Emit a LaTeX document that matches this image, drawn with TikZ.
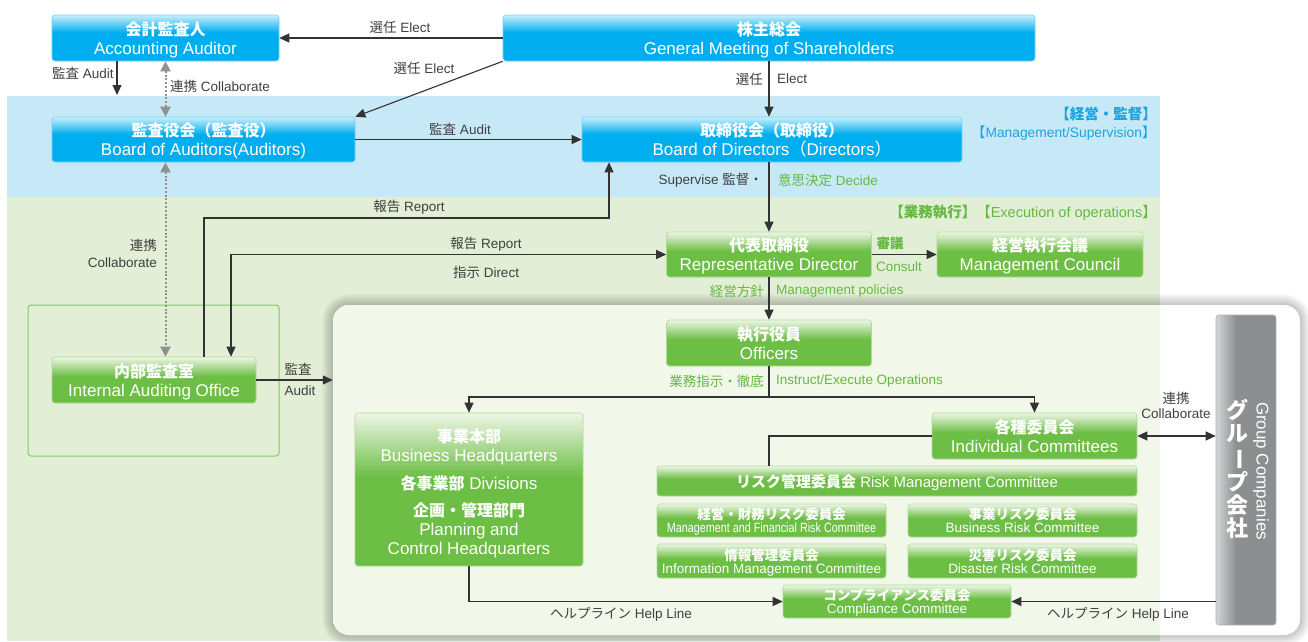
\documentclass[tikz,border=0pt]{standalone}
\usepackage{fontspec}
\setmainfont{Liberation Sans}
\newfontfamily\jp{Noto Sans CJK JP}
\usepackage{graphicx}
\usetikzlibrary{arrows.meta}
\definecolor{bmain}{HTML}{00AEEF}
\definecolor{blight}{HTML}{C8EFFC}
\definecolor{bband}{HTML}{C6E8F7}
\definecolor{btext}{HTML}{1BA5DF}
\definecolor{gmain}{HTML}{6DBE45}
\definecolor{glight}{HTML}{EDF6E6}
\definecolor{gband}{HTML}{E2EED5}
\definecolor{gtext}{HTML}{66B843}
\definecolor{gboxc}{HTML}{F1F7E9}
\definecolor{gray1}{HTML}{8D8E90}
\definecolor{gray2}{HTML}{D3D4D6}
\definecolor{linec}{HTML}{333333}
\definecolor{labc}{HTML}{404040}
\definecolor{dotc}{HTML}{909090}
\pgfdeclareverticalshading{bshade}{100bp}{color(0bp)=(bmain); color(25bp)=(bmain); color(56bp)=(bmain); color(75bp)=(blight); color(100bp)=(blight)}
\pgfdeclareverticalshading{gshade}{100bp}{color(0bp)=(gmain); color(25bp)=(gmain); color(54bp)=(gmain); color(75bp)=(glight); color(100bp)=(glight)}
\pgfdeclarehorizontalshading{grshade}{100bp}{color(0bp)=(gray2); color(25bp)=(gray2); color(42bp)=(gray1); color(100bp)=(gray1)}
\newcommand{\ttl}[2]{{\jp\bfseries\fontsize{16}{19}\selectfont #1}\\{\fontsize{17}{19}\selectfont #2}}
\newcommand{\cmt}[2]{{\jp\bfseries\fontsize{13.5}{13}\selectfont #1}\\{\fontsize{13.5}{13}\selectfont #2}}
\begin{document}
\begin{tikzpicture}[x=1pt,y=-1pt,
  bbx/.style={rounded corners=3pt, shade, shading=bshade, draw=bmain!55!white, line width=0.6pt, text=white, align=center, inner sep=0pt, text depth=0pt, font=\fontsize{17}{19}\selectfont},
  gbx/.style={rounded corners=3pt, shade, shading=gshade, draw=gmain!55!white, line width=0.6pt, text=white, align=center, inner sep=0pt, text depth=0pt, font=\fontsize{17}{19}\selectfont},
  cbx/.style={gbx, font=\fontsize{13.5}{13}\selectfont},
  lbl/.style={font=\fontsize{13.5}{16}\selectfont, text=labc, inner sep=0pt},
  glbl/.style={lbl, text=gtext},
  arr/.style={draw=linec, line width=1.1pt, -{Triangle[length=10pt,width=9pt]}},
  arrb/.style={draw=linec, line width=1.1pt, {Triangle[length=10pt,width=9pt]}-{Triangle[length=10pt,width=9pt]}},
  dotarr/.style={draw=dotc, line width=2pt, dash pattern=on 2pt off 1.8pt, {Triangle[length=10pt,width=10pt]}-{Triangle[length=10pt,width=10pt]}},
  plainln/.style={draw=linec, line width=1.1pt}]
\useasboundingbox (0,0) rectangle (1308,641);
\fill[white] (0,0) rectangle (1308,641);
% bands
\fill[bband] (7,96) rectangle (1160,197);
\fill[gband] (7,197) rectangle (1160,641);
% big execution box with soft shadow
\foreach \w in {2,4,...,22}{
  \draw[black, opacity=0.018, line width=\w pt, rounded corners=16pt] (333,305) rectangle (1300,635);
}
\fill[white, rounded corners=16pt] (333,305) rectangle (1300,635);
\begin{scope}
  \clip (300,290) rectangle (1160,641);
  \fill[gboxc, rounded corners=16pt] (333,305) rectangle (1300,635);
\end{scope}
\node[minimum width=967pt, minimum height=330pt, inner sep=0pt] (exec) at (816.5,470) {};
% internal auditing frame
\node[draw=gmain!85!white, line width=1pt, rounded corners=3pt, minimum width=251pt, minimum height=151pt, inner sep=0pt] (iaoframe) at (153.5,380.5) {};

% boxes
\node[bbx, minimum width=227pt, minimum height=46pt] (aa) at (165.5,38) {\ttl{会計監査人}{Accounting Auditor}};
\node[bbx, minimum width=532pt, minimum height=46pt] (gm) at (769,38) {\ttl{株主総会}{General Meeting of Shareholders}};
\node[bbx, minimum width=303pt, minimum height=45pt] (boa) at (203.5,139.5) {\ttl{監査役会（監査役）}{Board of Auditors(Auditors)}};
\node[bbx, minimum width=380pt, minimum height=45pt] (bod) at (772,139.5) {\ttl{取締役会（取締役）}{Board of Directors{\jp （}Directors{\jp ）}}};
\node[gbx, minimum width=205pt, minimum height=45pt] (rep) at (769,254.5) {\ttl{代表取締役}{Representative Director}};
\node[gbx, minimum width=206pt, minimum height=45pt] (mc) at (1040,254.5) {\ttl{経営執行会議}{Management Council}};
\node[gbx, minimum width=205pt, minimum height=46pt] (off) at (769,343) {\ttl{執行役員}{Officers}};
\node[gbx, minimum width=204pt, minimum height=46pt] (iao) at (154,380) {\ttl{内部監査室}{Internal Auditing Office}};
\node[gbx, minimum width=228pt, minimum height=153pt] (bhq) at (469,489.5) {%
  \rule{0pt}{17pt}{\jp\bfseries\fontsize{16}{19}\selectfont 事業本部}\\
  Business Headquarters\\[9pt]
  {\jp\bfseries\fontsize{16}{19}\selectfont 各事業部} Divisions\\[8pt]
  {\jp\bfseries\fontsize{16}{19}\selectfont 企画・管理部門}\\
  Planning and\\
  Control Headquarters};
\node[gbx, minimum width=205pt, minimum height=46pt] (ic) at (1034.5,436) {\ttl{各種委員会}{Individual Committees}};
\node[gbx, minimum width=480pt, minimum height=30pt, font=\fontsize{15}{17}\selectfont] (rmc) at (897,481) {{\jp\bfseries リスク管理委員会} Risk Management Committee};
\node[cbx, minimum width=229pt, minimum height=33pt] (mfr) at (771.5,520.5) {\cmt{経営・財務リスク委員会}{\scalebox{0.8}[1]{\fontsize{13.5}{13}\selectfont Management and Financial Risk Committee}}};
\node[cbx, minimum width=229pt, minimum height=33pt] (brc) at (1022.5,520.5) {\cmt{事業リスク委員会}{Business Risk Committee}};
\node[cbx, minimum width=229pt, minimum height=34pt] (imc) at (771.5,561) {\cmt{情報管理委員会}{Information Management Committee}};
\node[cbx, minimum width=229pt, minimum height=34pt] (drc) at (1022.5,561) {\cmt{災害リスク委員会}{Disaster Risk Committee}};
\node[cbx, minimum width=228pt, minimum height=33pt] (cc) at (897,601.5) {\cmt{コンプライアンス委員会}{Compliance Committee}};
% group companies
\node[rounded corners=3pt, shade, shading=grshade, draw=gray1!70!white, line width=0.6pt, minimum width=60pt, minimum height=310pt, inner sep=0pt] (grp) at (1246,470) {};
\node[text=white, align=center, inner sep=0pt, font=\jp\bfseries\fontsize{22}{23}\selectfont] (grpj) at (1237,469) {グ\\ル\\\rotatebox[origin=c]{-90}{ー}\\プ\\会\\社};
\node[text=white, rotate=-90, inner sep=0pt, font=\fontsize{17}{19}\selectfont] (grpe) at (1261,471) {Group Companies};

% side headings
\node[anchor=east, text=btext, inner sep=0pt, font=\jp\bfseries\fontsize{14.5}{16}\selectfont] (h1) at (1157,114) {【経営・監督】};
\node[anchor=east, text=btext, inner sep=0pt, font=\fontsize{13.8}{16}\selectfont] (h2) at (1156,133) {{\jp 【}Management/Supervision{\jp 】}};
\node[anchor=east, text=gtext, inner sep=0pt, font=\fontsize{14.5}{16}\selectfont] (h3) at (1157,213) {{\jp\bfseries 【業務執行】}{\jp 【}Execution of operations{\jp 】}};

% connectors
\draw[arr] (gm.west |- aa.east) -- (aa.east);
\node[lbl] (l1) at (400,27) {{\jp 選任} Elect};
\draw[arr] (gm.south west) -- (boa.north east);
\node[lbl] (l2) at (424,68) {{\jp 選任} Elect};
\draw[arr] (gm.south) -- (gm.south |- bod.north);
\node[lbl, anchor=east] (l3) at (763,79) {\jp 選任};
\node[lbl, anchor=west] (l4) at (777,79) {Elect};
\coordinate (aab) at (117,95);
\draw[arr] (aa.south -| aab) -- (aab);
\node[lbl, anchor=west] (l5) at (52,73) {{\jp 監査} Audit};
\draw[dotarr] (aa.south) -- (aa.south |- boa.north);
\node[lbl, anchor=west] (l6) at (170,86) {{\jp 連携} Collaborate};
\draw[dotarr] (boa.south -| aa.south) -- (iao.north -| aa.south);
\node[lbl, anchor=east, align=right, font=\fontsize{13.5}{17}\selectfont] (l7) at (157,253) {{\jp 連携}\\Collaborate};
\draw[arr] (boa.east) -- (bod.west |- boa.east);
\node[lbl] (l8) at (460,129) {{\jp 監査} Audit};
\coordinate (rp1) at (204,218);
\coordinate (rp2) at (609,218);
\draw[arr] (iao.north -| rp1) -- (rp1) -- (rp2) -- (bod.south -| rp2);
\node[lbl] (l9) at (409,207) {{\jp 報告} Report};
\coordinate (dp) at (231,254.5);
\draw[arrb] (iao.north -| dp) -- (dp) -- (rep.west);
\node[lbl] (l10) at (486,244) {{\jp 報告} Report};
\node[lbl] (l11) at (486,272) {{\jp 指示} Direct};
\draw[arr] (rep.north |- bod.south) -- (rep.north);
\node[lbl, anchor=east] (l12) at (763,180) {Supervise {\jp 監督・}};
\node[glbl, anchor=west] (l13) at (778,180) {{\jp 意思決定} Decide};
\draw[arr] (rep.east) -- (mc.west);
\node[glbl] (l14) at (890,243) {\jp\bfseries 審議};
\node[glbl] (l15) at (899,267) {Consult};
\draw[arr] (rep.south) -- (off.north);
\node[glbl, anchor=east] (l16) at (764,291) {\jp 経営方針};
\node[glbl, anchor=west] (l17) at (776,291) {Management policies};
\draw[arr] (iao.east) -- (exec.west |- iao.east);
\node[lbl] (l18) at (298,369) {\jp 監査};
\node[lbl] (l19) at (300,391) {Audit};
\coordinate (sp) at (769,397);
\draw[plainln] (off.south) -- (sp);
\draw[arr] (sp) -| (bhq.north);
\draw[arr] (sp) -| (ic.north);
\node[glbl, anchor=east] (l20) at (764,381) {\jp 業務指示・徹底};
\node[glbl, anchor=west] (l21) at (776,381) {Instruct/Execute Operations};
\coordinate (ic1) at (769,436);
\draw[plainln] (ic.west) -- (ic1) -- (rmc.north -| ic1);
\draw[arrb] (ic.east) -- (grp.west |- ic.east);
\node[lbl] (l22) at (1176,398) {\jp 連携};
\node[lbl] (l23) at (1176,414) {Collaborate};
\draw[arr] (bhq.south) |- (cc.west);
\node[lbl] (l24) at (621,614) {{\jp ヘルプライン} Help Line};
\draw[arr] (grp.west |- cc.east) -- (cc.east);
\node[lbl] (l25) at (1118,614) {{\jp ヘルプライン} Help Line};
\end{tikzpicture}
\end{document}
